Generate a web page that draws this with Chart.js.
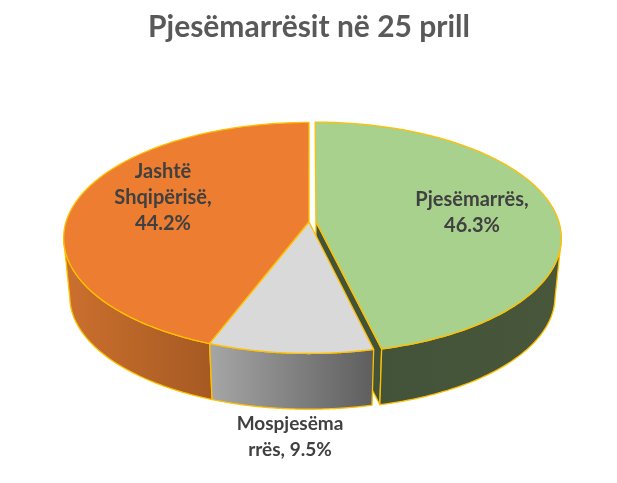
<!DOCTYPE html>
<html>
<head>
<meta charset="utf-8">
<title>Pjesëmarrësit në 25 prill</title>
<script src="https://cdn.jsdelivr.net/npm/chart.js@4"></script>
<style>
  html, body { margin: 0; padding: 0; background: #fff; }
  canvas { display: block; }
</style>
</head>
<body>
<canvas id="pieChart" width="617" height="483"></canvas>
<script>
// ================================
// DATA
// ================================
const chartTitle = "Pjesëmarrësit në 25 prill";
const categories = ["Pjesëmarrës", "Mospjesëmarrës", "Jashtë Shqipërisë"];
const shares = [46.3, 9.5, 44.2];
const labelLines = [
    ["Pjesëmarrës,", "46.3%"],
    ["Mospjesëma", "rrës, 9.5%"],
    ["Jashtë", "Shqipërisë,", "44.2%"]
];

// ================================
// STYLE
// ================================
const faceColors = ["#A9D18E", "#D9D9D9", "#ED7D31"];
const wallFrom = ["#43533A", "#A6A6A6", "#CC702F"];
const wallTo = ["#48573A", "#5E5E5E", "#A65A22"];
const edgeColor = "#FFC000";
const explode = [7, 0, 0];
const labelAnchors = [[472, 200], [290, 424], [163, 172]];
const labelSizes = [20, 19, 20];
const labelLeading = 26;
const drawOrder = [0, 2, 1];

// the pie plane is tilted: far side smaller than the near side
const squash = 0.4664;
const perspective = 0.138;
const depth = 59;
const baseShrink = 0.025;

// ================================
// PROJECTION
// ================================
function project(el, px, py, t) {
    const R = el.outerRadius;
    const w = 1 - perspective * (py / R);
    const s = 1 - baseShrink * t;
    return {
        x: el.x + (px / w) * s,
        y: el.y + (py * squash / w) * s + depth * t
    };
}

function rimPoint(el, shift, angle, t) {
    return project(el,
        shift.x + Math.cos(angle) * el.outerRadius,
        shift.y + Math.sin(angle) * el.outerRadius, t);
}

function tracePoints(ctx, points) {
    points.forEach((p, i) => {
        if (i === 0) ctx.moveTo(p.x, p.y);
        else ctx.lineTo(p.x, p.y);
    });
}

// ================================
// DRAW ONE SLICE
// ================================
function drawSlice(ctx, el, index) {
    const mid = (el.startAngle + el.endAngle) / 2;
    const shift = { x: Math.cos(mid) * explode[index], y: Math.sin(mid) * explode[index] };
    const steps = 160;
    const angles = [];
    for (let i = 0; i <= steps; i++) {
        angles.push(el.startAngle + (el.endAngle - el.startAngle) * i / steps);
    }
    const topRim = angles.map(a => rimPoint(el, shift, a, 0));
    const apexTop = project(el, shift.x, shift.y, 0);
    const apexBase = project(el, shift.x, shift.y, 1);

    // rim samples that face the viewer
    const front = angles.filter(a => Math.sin(a) >= perspective);
    const frontTop = front.map(a => rimPoint(el, shift, a, 0));
    const frontBase = front.map(a => rimPoint(el, shift, a, 1));

    ctx.lineWidth = 1.3;
    ctx.lineJoin = "round";
    ctx.strokeStyle = el.options.borderColor;

    // cut face of an exploded slice
    if (explode[index] > 0) {
        ctx.beginPath();
        tracePoints(ctx, [apexTop, topRim[steps], rimPoint(el, shift, el.endAngle, 1), apexBase]);
        ctx.closePath();
        ctx.fillStyle = wallFrom[index];
        ctx.fill();
        ctx.stroke();
    }

    // outer wall
    if (front.length > 1) {
        const xs = frontTop.map(p => p.x);
        const grad = ctx.createLinearGradient(Math.min(...xs), 0, Math.max(...xs), 0);
        grad.addColorStop(0, wallFrom[index]);
        grad.addColorStop(1, wallTo[index]);
        ctx.beginPath();
        tracePoints(ctx, frontTop.concat(frontBase.slice().reverse()));
        ctx.closePath();
        ctx.fillStyle = grad;
        ctx.fill();
        ctx.stroke();
    }

    // top face
    ctx.beginPath();
    tracePoints(ctx, [apexTop].concat(topRim));
    ctx.closePath();
    ctx.fillStyle = el.options.backgroundColor;
    ctx.fill();
    ctx.stroke();
}

// ================================
// PLUGIN: tilted pie + labels
// ================================
const tiltedPie = {
    id: "tiltedPie",
    beforeDatasetDraw() {
        return false;
    },
    afterDatasetsDraw(chart) {
        const ctx = chart.ctx;
        const arcs = chart.getDatasetMeta(0).data;
        ctx.save();
        drawOrder.forEach(i => drawSlice(ctx, arcs[i], i));

        ctx.fillStyle = "#404040";
        ctx.textAlign = "center";
        ctx.textBaseline = "middle";
        labelLines.forEach((lines, i) => {
            ctx.font = `bold ${labelSizes[i]}px Lato`;
            lines.forEach((line, n) => {
                ctx.fillText(line, labelAnchors[i][0], labelAnchors[i][1] + n * labelLeading);
            });
        });
        ctx.restore();
    }
};

// ================================
// CREATE CHART
// ================================
new Chart(document.getElementById("pieChart"), {
    type: "pie",
    data: {
        labels: categories,
        datasets: [{
            data: shares,
            backgroundColor: faceColors,
            borderColor: edgeColor,
            radius: 243
        }]
    },
    options: {
        responsive: false,
        animation: false,
        layout: { padding: { top: 0, left: 1, bottom: 94 } },
        plugins: {
            legend: { display: false },
            tooltip: { enabled: false },
            title: {
                display: true,
                text: chartTitle,
                color: "#595959",
                font: { family: "Lato", size: 30, weight: "bold" },
                padding: { top: 9, bottom: 10 }
            }
        }
    },
    plugins: [tiltedPie]
});
</script>
</body>
</html>
